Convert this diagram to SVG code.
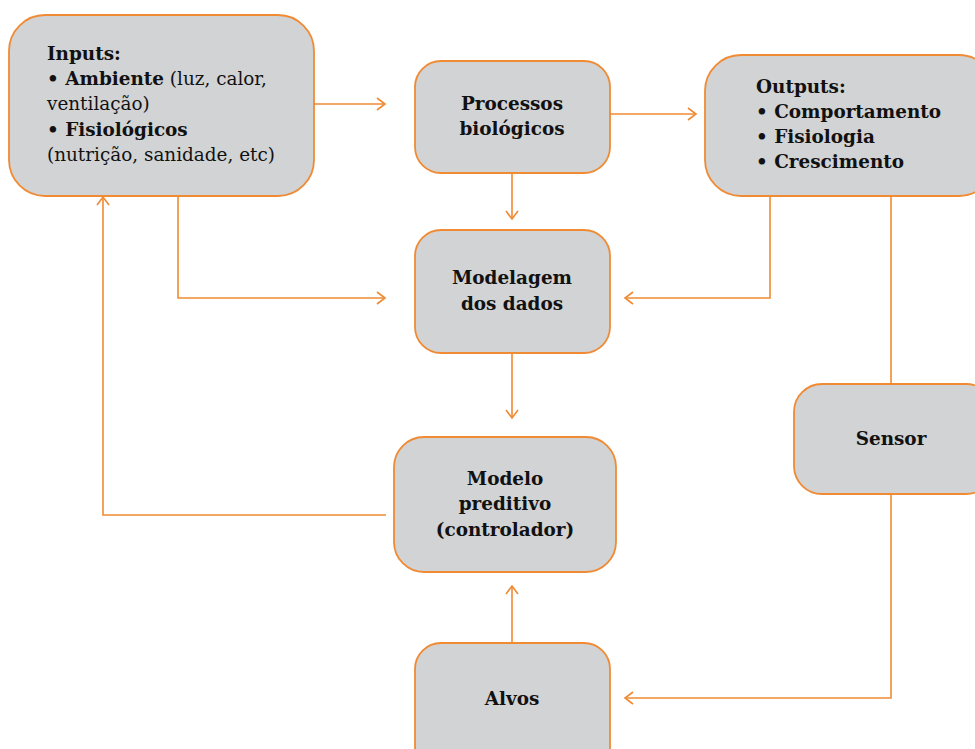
<svg xmlns="http://www.w3.org/2000/svg" width="975" height="749" viewBox="0 0 975 749">
<style>
.box{fill:#D1D3D4;stroke:#F08A33;stroke-width:1.8}
.c{fill:none;stroke:#F08A33;stroke-width:1.6}
.t{font-family:'DejaVu Serif','Liberation Serif',serif;font-size:18.4px;fill:#111}
.b{font-weight:bold}
.m{text-anchor:middle;font-weight:bold}
</style>
<defs>
<marker id="a" viewBox="-10 -8 12 16" refX="0" refY="0" markerWidth="12" markerHeight="16" markerUnits="userSpaceOnUse" orient="auto">
<path d="M-8,-6 L0,0 L-8,6" fill="none" stroke="#F08A33" stroke-width="1.6"/>
</marker>
</defs>
<rect width="975" height="749" fill="#fff"/>
<g id="connectors">
<path class="c" d="M314,104 H385" marker-end="url(#a)"/>
<path class="c" d="M610,114 H696" marker-end="url(#a)"/>
<path class="c" d="M512,173 V219" marker-end="url(#a)"/>
<path class="c" d="M178,196 V298 H385" marker-end="url(#a)"/>
<path class="c" d="M770,196 V298 H625" marker-end="url(#a)"/>
<path class="c" d="M891,196 V384"/>
<path class="c" d="M512,353 V418" marker-end="url(#a)"/>
<path class="c" d="M386,515 H103 V197" marker-end="url(#a)"/>
<path class="c" d="M512,643 V586" marker-end="url(#a)"/>
<path class="c" d="M891,494 V698 H625" marker-end="url(#a)"/>
</g>
<g class="t">
<g id="inputs">
<rect class="box" x="9" y="15" width="305" height="181" rx="36"/>
<text x="47" y="60" class="b">Inputs:</text>
<text x="47" y="85"><tspan class="b">• Ambiente</tspan> (luz, calor,</text>
<text x="47" y="110">ventilação)</text>
<text x="47" y="136" class="b">• Fisiológicos</text>
<text x="47" y="161">(nutrição, sanidade, etc)</text>
</g>
<g id="processos">
<rect class="box" x="415" y="61" width="195" height="112" rx="26"/>
<text x="512" y="110" class="m">Processos</text>
<text x="512" y="135" class="m">biológicos</text>
</g>
<g id="outputs">
<rect class="box" x="705" y="55" width="290" height="141" rx="36"/>
<text x="756" y="93" class="b">Outputs:</text>
<text x="756" y="118" class="b">• Comportamento</text>
<text x="756" y="143" class="b">• Fisiologia</text>
<text x="756" y="168" class="b">• Crescimento</text>
</g>
<g id="modelagem">
<rect class="box" x="415" y="230" width="195" height="123" rx="26"/>
<text x="512" y="284" class="m">Modelagem</text>
<text x="512" y="310" class="m">dos dados</text>
</g>
<g id="modelo">
<rect class="box" x="394" y="437" width="222" height="135" rx="30"/>
<text x="505" y="485" class="m">Modelo</text>
<text x="505" y="510" class="m">preditivo</text>
<text x="505" y="536" class="m">(controlador)</text>
</g>
<g id="sensor">
<rect class="box" x="794" y="384" width="200" height="110" rx="28"/>
<text x="891" y="445" class="m">Sensor</text>
</g>
<g id="alvos">
<rect class="box" x="415" y="643" width="195" height="130" rx="26"/>
<text x="512" y="705" class="m">Alvos</text>
</g>
</g>
</svg>
